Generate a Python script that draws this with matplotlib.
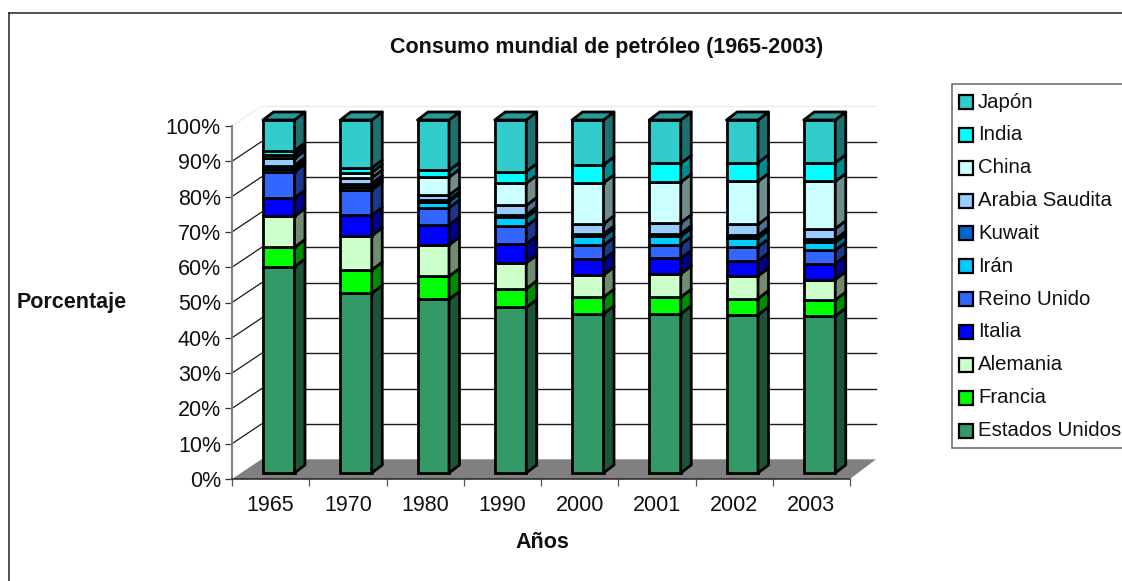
import numpy as np
import matplotlib
matplotlib.use("Agg")
import matplotlib.pyplot as plt
from matplotlib.patches import Polygon, Rectangle

plt.rcParams['font.family'] = ['Liberation Sans', 'DejaVu Sans']

years = ["1965", "1970", "1980", "1990", "2000", "2001", "2002", "2003"]
countries = ["Estados Unidos", "Francia", "Alemania", "Italia", "Reino Unido", "Irán",
             "Kuwait", "Arabia Saudita", "China", "India", "Japón"]
colors = ["#339966", "#00FF00", "#CCFFCC", "#0000FF", "#3366FF", "#00CCFF",
          "#0066CC", "#99CCFF", "#CCFFFF", "#00FFFF", "#33CCCC"]

estados_unidos = [58.4, 50.9, 49.2, 46.9, 45.1, 45.1, 44.8, 44.5]
francia = [5.5, 6.6, 6.5, 5.3, 4.7, 4.7, 4.6, 4.5]
alemania = [8.8, 9.7, 8.9, 7.3, 6.3, 6.6, 6.4, 5.8]
italia = [5.2, 5.8, 5.7, 5.4, 4.4, 4.4, 4.3, 4.5]
reino_unido = [7.4, 7.2, 4.8, 5.0, 4.0, 3.9, 4.0, 3.8]
iran = [0.9, 0.8, 1.8, 2.5, 2.5, 2.4, 2.4, 2.2]
kuwait = [0.9, 1.0, 0.5, 0.7, 0.7, 0.7, 0.8, 0.9]
arabia = [2.0, 1.6, 1.3, 2.7, 2.9, 3.1, 3.1, 3.0]
china = [1.1, 1.5, 5.1, 6.3, 11.6, 11.5, 12.2, 13.4]
india = [1.1, 1.3, 1.9, 3.3, 5.1, 5.3, 5.3, 5.3]
japon = [8.7, 13.6, 14.3, 14.6, 12.7, 12.3, 12.1, 12.1]

series = [estados_unidos, francia, alemania, italia, reino_unido, iran,
          kuwait, arabia, china, india, japon]

W, H = 1122, 581
fig = plt.figure(figsize=(W / 100, H / 100), dpi=100)

# plot box in pixels, from the reference
left, right, base, top = 232, 850, 479, 126
ax = fig.add_axes([left / W, 1 - base / H, (right - left) / W, (base - top) / H])
ax.set_xlim(0, len(years))
ax.set_ylim(0, 100)
ax.patch.set_visible(False)
for s in ax.spines.values():
    s.set_visible(False)

ux = (right - left) / len(years)
uy = (base - top) / 100
back_dx, back_dy = 29.5 / ux, 19.7 / uy  # depth of the walls
bar_dx, bar_dy = 10.5 / ux, 8 / uy       # depth of the bars
off_x, off_y = 31 / ux, 6 / uy           # front of the bars from the axis corner
bar_w = 31.5 / ux
n = len(years)
back_end = n + 26 / ux


def shade(c, f):
    r = np.array(matplotlib.colors.to_rgb(c)) * f
    return tuple(r)


# floor and walls
ax.add_patch(Polygon([(0, 0), (back_dx, back_dy), (back_end, back_dy), (n, 0)],
                     closed=True, fc="#808080", ec="none", clip_on=False, zorder=1))
for v in range(10, 110, 10):
    col = "#ececec" if v == 100 else "#1a1a1a"
    ax.plot([0, back_dx], [v, v + back_dy], color=col, lw=0.9, clip_on=False, zorder=2)
    ax.plot([back_dx, back_end], [v + back_dy, v + back_dy], color=col, lw=1.0,
            clip_on=False, zorder=2)

ax.plot([0, 0], [0, 100], color="#808080", lw=1.5, clip_on=False, zorder=3)
ax.plot([0, n], [0, 0], color="#222222", lw=1.1, clip_on=False, zorder=3)

# bars
lw = 2.0
for i in range(n):
    x0 = i + off_x
    x1 = x0 + bar_w
    bottom = off_y
    for vals, c in zip(series, colors):
        t = bottom + vals[i]
        ax.bar(x0, vals[i], width=bar_w, bottom=bottom, align="edge", color=c, edgecolor="black",
               linewidth=lw, clip_on=False, zorder=5)
        ax.add_patch(Polygon([(x1, bottom), (x1 + bar_dx, bottom + bar_dy), (x1 + bar_dx, t + bar_dy), (x1, t)],
                             closed=True, fc=shade(c, 0.55), ec="black", lw=lw, joinstyle="round",
                             clip_on=False, zorder=5))
        bottom = t
    ax.add_patch(Polygon([(x0, bottom), (x0 + bar_dx, bottom + bar_dy), (x1 + bar_dx, bottom + bar_dy), (x1, bottom)],
                         closed=True, fc=shade(colors[-1], 0.75), ec="black", lw=lw, joinstyle="round",
                         clip_on=False, zorder=5))

ax.set_yticks(range(0, 110, 10))
ax.set_yticklabels(["{}%".format(v) for v in range(0, 110, 10)], fontsize=15.5, color="#111111")
ax.set_xticks(np.arange(n + 1))
ax.set_xticklabels([""] * (n + 1))
ax.tick_params(axis="y", length=5, width=0.9, color="#333333", pad=3)
ax.tick_params(axis="x", length=5, width=0.9, color="#555555")
for i, y in enumerate(years):
    ax.text(i + 0.5, -4.5, y, ha="center", va="top", fontsize=15.5, color="#111111")

# frame, titles and legend are placed in figure coordinates
fig.add_artist(plt.Line2D([8.5 / W, 8.5 / W], [0, 1 - 12.5 / H], transform=fig.transFigure, color="#222222", lw=1.1))
fig.add_artist(plt.Line2D([8.5 / W, 1], [1 - 12.5 / H, 1 - 12.5 / H], transform=fig.transFigure, color="#222222", lw=1.1))

fig.text(607 / W, 1 - 47 / H, "Consumo mundial de petróleo (1965-2003)", ha="center", va="center",
         fontsize=15.5, fontweight="bold", color="#111111")
fig.text(72 / W, 1 - 303 / H, "Porcentaje", ha="center", va="center", fontsize=15.5, fontweight="bold",
         color="#111111")
fig.text(542 / W, 1 - 543 / H, "Años", ha="center", va="center", fontsize=15.5, fontweight="bold",
         color="#111111")

fig.add_artist(Rectangle((952 / W, 1 - 447.5 / H), 180 / W, 363.5 / H, transform=fig.transFigure,
                         fc="white", ec="#666666", lw=1.1))
for k, (name, c) in enumerate(zip(countries, colors)):
    y = 430.5 - 32.85 * k
    fig.add_artist(Rectangle((958.5 / W, 1 - (y + 7) / H), 14 / W, 14 / H, transform=fig.transFigure,
                             fc=c, ec="black", lw=1.6))
    fig.text(978 / W, 1 - y / H, name, ha="left", va="center", fontsize=14.7, color="#111111")

fig.savefig("out.png", dpi=100)
